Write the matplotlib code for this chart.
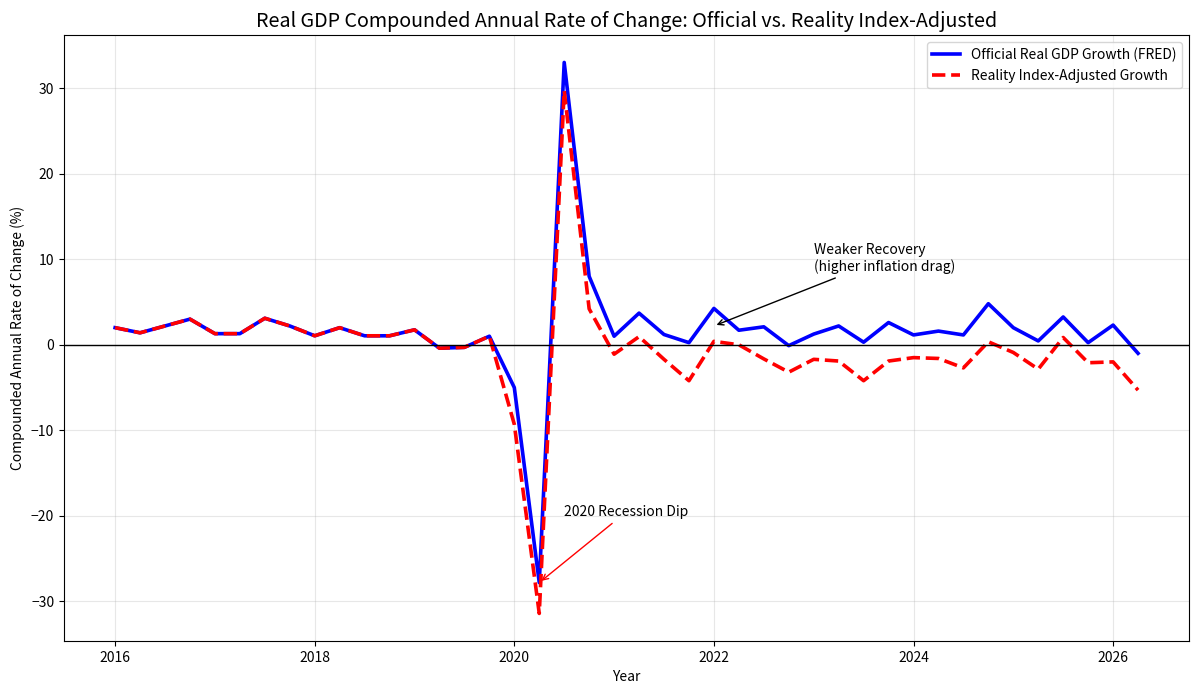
import numpy as np
import matplotlib
matplotlib.use("Agg")
import matplotlib.pyplot as plt

plt.rcParams['font.family'] = ['Noto Sans CJK JP', 'DejaVu Sans']

# quarterly dates, 2016 Q1 .. 2026 Q2
years = 2016 + np.arange(42) * 0.25

official = [2.0, 1.4, 2.2, 3.0, 1.3, 1.3, 3.1, 2.2,
            1.05, 2.0, 1.05, 1.05, 1.75, -0.4, -0.3, 1.0,
            -5.0, -27.8, 33.0, 8.0, 1.0, 3.7, 1.2, 0.25,
            4.25, 1.7, 2.1, -0.1, 1.25, 2.2, 0.3, 2.6,
            1.15, 1.6, 1.15, 4.8, 2.0, 0.45, 3.25, 0.25,
            2.3, -1.0]

adjusted = [2.0, 1.4, 2.2, 3.0, 1.3, 1.3, 3.1, 2.2,
            1.05, 2.0, 1.05, 1.05, 1.75, -0.4, -0.3, 1.0,
            -9.3, -31.4, 29.7, 4.2, -1.1, 0.95, -1.7, -4.2,
            0.4, 0.0, -1.65, -3.2, -1.7, -1.9, -4.2, -1.9,
            -1.5, -1.6, -2.7, 0.35, -0.9, -2.85, 0.85, -2.1,
            -2.0, -5.3]

fig, ax = plt.subplots(figsize=(12, 6.98), dpi=100)

ax.plot(years, official, color='blue', lw=2.6, label='Official Real GDP Growth (FRED)')
ax.plot(years, adjusted, color='red', lw=2.6, ls='--', label='Reality Index-Adjusted Growth')
ax.axhline(0, color='black', lw=1)

ax.annotate('2020 Recession Dip', xy=(years[17], official[17]), xytext=(2020.5, -20),
            fontsize=10, arrowprops=dict(arrowstyle='->', color='red'))
ax.annotate('Weaker Recovery\n(higher inflation drag)', xy=(2022.0, 2.2), xytext=(2023.0, 8.6),
            fontsize=10, arrowprops=dict(arrowstyle='->', color='black'))

ax.set_title('Real GDP Compounded Annual Rate of Change: Official vs. Reality Index-Adjusted', fontsize=14.2)
ax.set_xlabel('Year')
ax.set_ylabel('Compounded Annual Rate of Change (%)')
ax.grid(True, alpha=0.3)
ax.legend(loc='upper right')

fig.subplots_adjust(left=0.0533, right=0.991, top=0.95, bottom=0.0817)
fig.savefig('out.png')
